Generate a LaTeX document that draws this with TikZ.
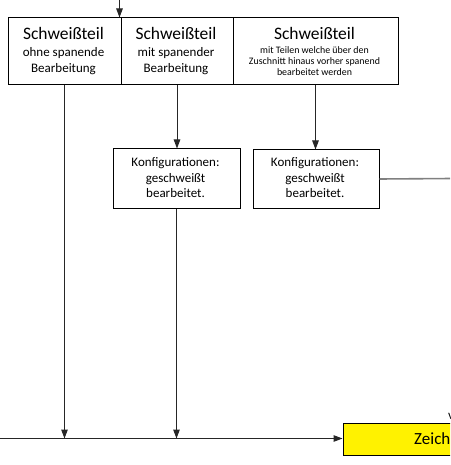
\documentclass[tikz,border=0pt]{standalone}
\usepackage{fontspec}
\setmainfont{Carlito}
\usetikzlibrary{arrows.meta}
\tikzset{
  box/.style={draw=black, line width=1pt, rectangle, inner sep=0pt},
  conn/.style={draw=black!85, line width=1pt},
  arr/.style={conn, -{Triangle[length=9pt,width=6.5pt]}},
  graylink/.style={draw=black!50, line width=1.6pt},
  big/.style={font=\fontsize{17.5}{21}\selectfont, anchor=base, inner sep=0pt},
  mid/.style={font=\fontsize{13}{16}\selectfont, anchor=base, inner sep=0pt},
  small/.style={font=\fontsize{9.9}{11}\selectfont, anchor=base, inner sep=0pt},
}
\begin{document}
\begin{tikzpicture}[x=1pt,y=-1pt]
\useasboundingbox (0,0) rectangle (450,465);
\clip (0,0) rectangle (450,465);
\fill[white] (0,0) rectangle (450,465);

% top row of boxes
\node[box, minimum width=113pt, minimum height=67pt, anchor=north west] (t1) at (7.5,17.5) {};
\node[box, minimum width=112pt, minimum height=67pt, anchor=north west] (t2) at (120.5,17.5) {};
\node[box, minimum width=165pt, minimum height=67pt, anchor=north west] (t3) at (232.5,17.5) {};

\node[big] (t1a) at (63.5,40) {Schweißteil};
\node[mid] (t1b) at (63.5,57) {ohne spanende};
\node[mid] (t1c) at (63.5,73) {Bearbeitung};

\node[big] (t2a) at (176,40) {Schweißteil};
\node[mid] (t2b) at (176,57) {mit spanender};
\node[mid] (t2c) at (176,73) {Bearbeitung};

\node[big] (t3a) at (314.5,40) {Schweißteil};
\node[small] (t3b) at (314.5,54) {mit Teilen welche über den};
\node[small] (t3c) at (314.5,65) {Zuschnitt hinaus vorher spanend};
\node[small] (t3d) at (314.5,76) {bearbeitet werden};

% configuration boxes
\node[box, minimum width=127pt, minimum height=59pt, anchor=north west] (k1) at (112.5,148.5) {};
\node[mid] (k1a) at (175.5,167) {Konfigurationen:};
\node[mid] (k1b) at (175.5,182.5) {geschweißt};
\node[mid] (k1c) at (175.5,197.5) {bearbeitet.};

\node[box, minimum width=126pt, minimum height=58pt, anchor=north west] (k2) at (252.5,149.5) {};
\node[mid] (k2a) at (315,167) {Konfigurationen:};
\node[mid] (k2b) at (315,182.5) {geschweißt};
\node[mid] (k2c) at (315,197.5) {bearbeitet.};

% yellow box
\node[box, fill=yellow, minimum width=130pt, minimum height=32pt, anchor=north west] (z) at (342.5,422.5) {};
\node[font=\fontsize{17}{20}\selectfont, anchor=base west, inner sep=0pt] (zt) at (414,444.5) {Zeichnung};
\node[mid, anchor=base west] (frag) at (448,419) {v};

% connectors
\coordinate (top) at (119.5,0);
\coordinate (lin) at (0,438.5);
\coordinate (re) at (452,178.5);

\draw[arr] (top) -- (top |- t1.north);
\draw[arr] (t1.south) -- (t1.south |- lin);
\draw[arr] (t2.south) -- (t2.south |- k1.north);
\draw[arr] (k1.south) -- (k1.south |- lin);
\draw[arr] (t3.south) -- (t3.south |- k2.north);
\draw[graylink] (k2.east) -- (re);
\draw[arr] (lin) -- (lin -| z.west);
\end{tikzpicture}
\end{document}
